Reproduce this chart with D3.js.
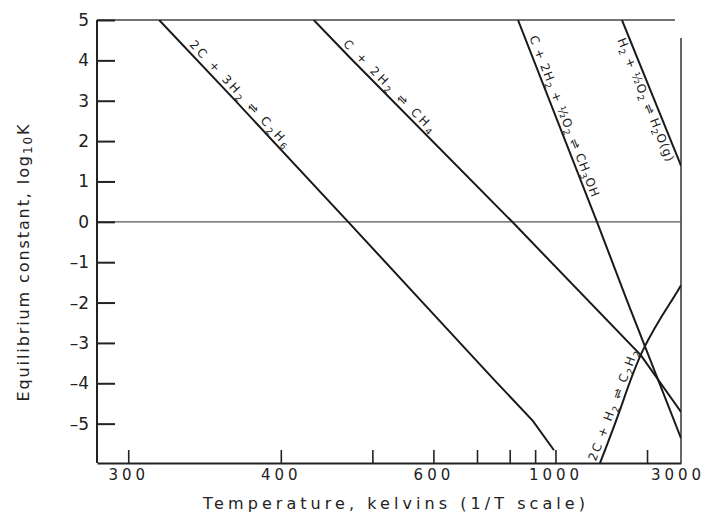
<!DOCTYPE html>
<html>
<head>
<meta charset="utf-8">
<script src="https://cdn.jsdelivr.net/npm/d3@7"></script>
<style>
body { margin: 0; background: #fff; }
svg { display: block; }
text { font-family: "DejaVu Sans", sans-serif; fill: #222; }
</style>
</head>
<body>
<div id="chart"></div>
<script>
// temperature (K) and log10 K
var tC2H6 = [316, 362, 469, 588, 745, 890, 992];
var kC2H6 = [5.0, 3.07, 0.0, -2.12, -3.88, -4.93, -5.66];
var tCH4 = [431, 471, 809, 1876, 3180];
var kCH4 = [5.0, 4.07, 0.0, -3.31, -4.71];
var tCH3OH = [830, 1293, 1641, 3180];
var kCH3OH = [5.0, 0.0, -1.95, -5.36];
var tH2O = [1570, 3180];
var kH2O = [5.0, 1.39];
var tC2H2 = [1321, 1544, 1915, 2749, 3180];
var kC2H2 = [-5.98, -4.66, -3.18, -1.94, -1.57];

// "_n" marks a subscript digit
var reactions = ["2C + 3H_2 ⇌ C_2H_6", "C + 2H_2 ⇌ CH_4", "C + 2H_2 + ½O_2 ⇌ CH_3OH", "H_2 + ½O_2 ⇌ H_2O(g)", "2C + H_2 ⇌ C_2H_2"];

var xTicks = [300, 400, 500, 600, 700, 800, 900, 1000, 2000, 3000];
var xLabels = [300, 400, 600, 1000, 3000];
var yTicks = [5, 4, 3, 2, 1, 0, -1, -2, -3, -4, -5];

var W = 710, H = 515;
var plotLeft = 97, plotTop = 20, plotRight = 681, plotBottom = 463;
var tMin = 285.4, tMax = 3180;

var series = [
  {name: reactions[0], t: tC2H6, k: kC2H6, curve: d3.curveLinear},
  {name: reactions[1], t: tCH4, k: kCH4, curve: d3.curveLinear},
  {name: reactions[2], t: tCH3OH, k: kCH3OH, curve: d3.curveLinear},
  {name: reactions[3], t: tH2O, k: kH2O, curve: d3.curveLinear},
  {name: reactions[4], t: tC2H2, k: kC2H2, curve: d3.curveNatural}
];
// where each reaction name sits along its line
var labelT = [363, 516, 1007, 2141, 1553];
var labelDy = [-4, -4, -4, 12, -4];
var labelLen = [141, 125, 172, 132, 118];

var svg = d3.select("#chart").append("svg").attr("width", W).attr("height", H);

// 1/T scale, fed with 1000/T
var x = d3.scaleLinear().domain([1000 / tMin, 1000 / tMax]).range([plotLeft, plotRight]);
var y = d3.scaleLinear().domain([-5.975, 5]).range([plotBottom, plotTop]);

svg.append("clipPath").attr("id", "plot")
  .append("rect").attr("x", plotLeft).attr("y", plotTop)
  .attr("width", plotRight - plotLeft).attr("height", plotBottom - plotTop);

// frame bits
svg.append("line").attr("x1", plotLeft).attr("x2", plotRight - 6).attr("y1", plotTop).attr("y2", plotTop)
  .attr("stroke", "#444").attr("stroke-width", 1.5);
svg.append("line").attr("x1", plotRight).attr("x2", plotRight).attr("y1", 38).attr("y2", plotBottom)
  .attr("stroke", "#333").attr("stroke-width", 1.5);
svg.append("line").attr("x1", plotLeft).attr("x2", plotRight).attr("y1", y(0)).attr("y2", y(0))
  .attr("stroke", "#555").attr("stroke-width", 1.2);

var xAxis = d3.axisBottom(x)
  .tickValues(xTicks.map(function(t) { return 1000 / t; }))
  .tickSize(-13).tickSizeOuter(0).tickPadding(6)
  .tickFormat(function(u) {
    var t = Math.round(1000 / u);
    return xLabels.indexOf(t) >= 0 ? t : "";
  });

var gx = svg.append("g").attr("transform", "translate(0," + plotBottom + ")").call(xAxis);
gx.select(".domain").attr("stroke", "#222").attr("stroke-width", 2);
gx.selectAll(".tick line").attr("stroke", "#222").attr("stroke-width", 1.6);
gx.selectAll(".tick").filter(function(u) { return Math.round(1000 / u) === 3000; })
  .select("line").remove();
gx.selectAll(".tick text").attr("font-size", 15).attr("letter-spacing", "4px")
  .attr("font-family", "DejaVu Sans").attr("fill", "#222");

var yAxis = d3.axisLeft(y).tickValues(yTicks).tickSize(-18).tickSizeOuter(0).tickPadding(8)
  .tickFormat(function(d) { return d < 0 ? "–" + (-d) : String(d); });
var gy = svg.append("g").attr("transform", "translate(" + plotLeft + ",0)").call(yAxis);
gy.select(".domain").attr("stroke", "#222").attr("stroke-width", 2)
  .attr("d", "M0," + plotBottom + "V" + plotTop);
gy.selectAll(".tick line").attr("stroke", "#222").attr("stroke-width", 2);
gy.selectAll(".tick text").attr("font-size", 17)
  .attr("font-family", "DejaVu Sans").attr("fill", "#222");

var lineGroup = svg.append("g").attr("clip-path", "url(#plot)");
series.forEach(function(s) {
  var line = d3.line()
    .x(function(d) { return x(1000 / d[0]); })
    .y(function(d) { return y(d[1]); })
    .curve(s.curve);
  lineGroup.append("path")
    .attr("d", line(s.t.map(function(t, i) { return [t, s.k[i]]; })))
    .attr("fill", "none").attr("stroke", "#1a1a1a").attr("stroke-width", 2);
});

// point and slope on a series at temperature T (screen coords)
var placeOn = function(s, T) {
  var px = x(1000 / T);
  var pts = s.t.map(function(t, i) { return [x(1000 / t), y(s.k[i])]; });
  for (var i = 0; i < pts.length - 1; i++) {
    var a = pts[i], b = pts[i + 1];
    if (px >= a[0] && px <= b[0]) {
      var f = (px - a[0]) / (b[0] - a[0]);
      return {x: px, y: a[1] + f * (b[1] - a[1]),
        angle: Math.atan2(b[1] - a[1], b[0] - a[0]) * 180 / Math.PI};
    }
  }
  return {x: pts[0][0], y: pts[0][1], angle: 0};
};

// write "H_2" style strings as text with subscript tspans
var writeFormula = function(el, str, subSize) {
  var parts = str.split(/(_\d+)/);
  var shifted = false;
  parts.forEach(function(p) {
    if (!p) return;
    if (p[0] === "_") {
      el.append("tspan").attr("font-size", subSize).attr("dy", shifted ? 0 : 3).text(p.slice(1));
      shifted = true;
    } else {
      el.append("tspan").attr("dy", shifted ? -3 : 0).text(p);
      shifted = false;
    }
  });
};

series.forEach(function(s, i) {
  var p = placeOn(s, labelT[i]);
  var g = svg.append("g")
    .attr("transform", "translate(" + p.x + "," + p.y + ") rotate(" + p.angle + ")");
  var t = g.append("text")
    .attr("text-anchor", "middle")
    .attr("y", labelDy[i])
    .attr("font-size", 12)
    .attr("textLength", labelLen[i])
    .attr("lengthAdjust", "spacing");
  writeFormula(t, s.name, 9);
});

svg.append("text")
  .attr("x", 394).attr("y", 509)
  .attr("text-anchor", "middle")
  .attr("font-size", 16)
  .attr("textLength", 382).attr("lengthAdjust", "spacing")
  .text("Temperature, kelvins (1/T scale)");

var yTitle = svg.append("text")
  .attr("transform", "translate(29,263) rotate(-90)")
  .attr("text-anchor", "middle")
  .attr("font-size", 16)
  .attr("textLength", 277).attr("lengthAdjust", "spacing");
writeFormula(yTitle, "Equilibrium constant, log_10K", 12);
</script>
</body>
</html>
